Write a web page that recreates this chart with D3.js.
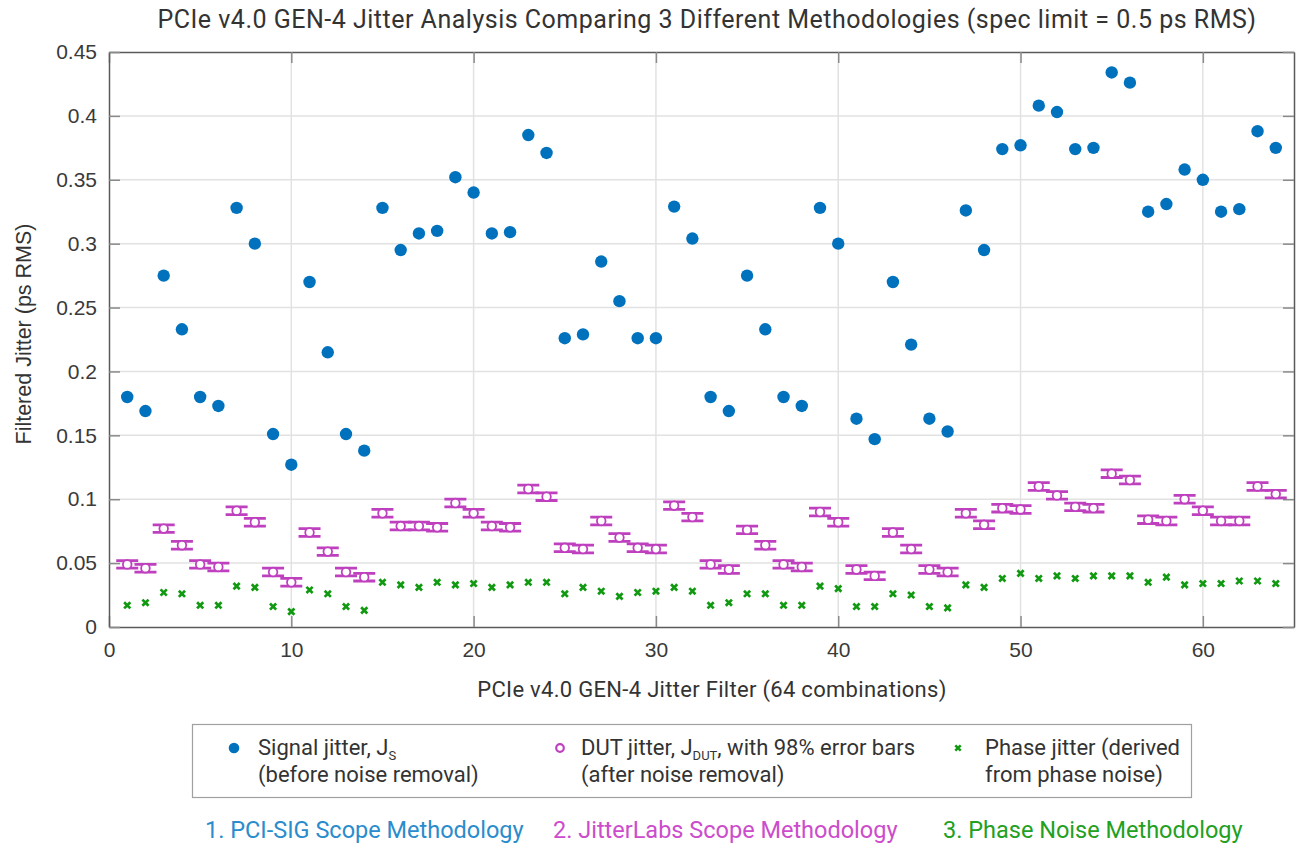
<!DOCTYPE html>
<html>
<head>
<meta charset="utf-8">
<script src="https://cdn.jsdelivr.net/npm/d3@7"></script>
<style>
  body { margin: 0; background: #fff; }
  svg { display: block; }
  .tick-lbl { font-family: "Liberation Sans", Arial, sans-serif; font-size: 21px; fill: #3a3a3a; }
  .rob { font-family: Roboto, sans-serif; fill: #333; }
</style>
</head>
<body>
<svg id="chart" width="1297" height="846"></svg>
<script>
// ---- data ----
const combo = d3.range(1, 65); // 64 filter combinations

const signalJitter = [
  0.180, 0.169, 0.275, 0.233, 0.180, 0.173, 0.328, 0.300, 0.151, 0.127,
  0.270, 0.215, 0.151, 0.138, 0.328, 0.295, 0.308, 0.310, 0.352, 0.340,
  0.308, 0.309, 0.385, 0.371, 0.226, 0.229, 0.286, 0.255, 0.226, 0.226,
  0.329, 0.304, 0.180, 0.169, 0.275, 0.233, 0.180, 0.173, 0.328, 0.300,
  0.163, 0.147, 0.270, 0.221, 0.163, 0.153, 0.326, 0.295, 0.374, 0.377,
  0.408, 0.403, 0.374, 0.375, 0.434, 0.426, 0.325, 0.331, 0.358, 0.350,
  0.325, 0.327, 0.388, 0.375
];

const dutJitter = [
  0.049, 0.046, 0.077, 0.064, 0.049, 0.047, 0.091, 0.082, 0.043, 0.035,
  0.074, 0.059, 0.043, 0.039, 0.089, 0.079, 0.079, 0.078, 0.097, 0.089,
  0.079, 0.078, 0.108, 0.102, 0.062, 0.061, 0.083, 0.070, 0.062, 0.061,
  0.095, 0.086, 0.049, 0.045, 0.076, 0.064, 0.049, 0.047, 0.090, 0.082,
  0.045, 0.040, 0.074, 0.061, 0.045, 0.043, 0.089, 0.080, 0.093, 0.092,
  0.110, 0.103, 0.094, 0.093, 0.120, 0.115, 0.084, 0.083, 0.100, 0.091,
  0.083, 0.083, 0.110, 0.104
];
const dutErr = 0.003; // half width of the 98% error bars

const phaseJitter = [
  0.017, 0.019, 0.027, 0.026, 0.017, 0.017, 0.032, 0.031, 0.016, 0.012,
  0.029, 0.026, 0.016, 0.013, 0.035, 0.033, 0.031, 0.035, 0.033, 0.034,
  0.031, 0.033, 0.035, 0.035, 0.026, 0.031, 0.028, 0.024, 0.027, 0.028,
  0.031, 0.028, 0.017, 0.019, 0.026, 0.026, 0.017, 0.017, 0.032, 0.030,
  0.016, 0.016, 0.026, 0.025, 0.016, 0.015, 0.033, 0.031, 0.038, 0.042,
  0.038, 0.040, 0.038, 0.040, 0.040, 0.040, 0.035, 0.039, 0.033, 0.034,
  0.034, 0.036, 0.036, 0.034
];

const xTicks = [0, 10, 20, 30, 40, 50, 60];
const yTicks = [0, 0.05, 0.1, 0.15, 0.2, 0.25, 0.3, 0.35, 0.4, 0.45];

const blue = '#0072bd', purple = '#bf40bf', green = '#119a11';

/*################
Scales and frame
################*/
const svg = d3.select('#chart');
const pL = 109, pR = 1294, pT = 52, pB = 627;

const x = d3.scaleLinear().domain([0, 65]).range([pL, pR]);
const y = d3.scaleLinear().domain([0, 0.45]).range([pB, pT]);

// grid
svg.append('g')
  .selectAll('line')
  .data(xTicks.slice(1))
  .join('line')
  .attr('x1', d => x(d)).attr('x2', d => x(d))
  .attr('y1', pT).attr('y2', pB)
  .attr('stroke', '#e2e2e2').attr('stroke-width', 1.5);
svg.append('g')
  .selectAll('line')
  .data(yTicks.slice(1, -1))
  .join('line')
  .attr('x1', pL).attr('x2', pR)
  .attr('y1', d => y(d)).attr('y2', d => y(d))
  .attr('stroke', '#e2e2e2').attr('stroke-width', 1.5);

// axes, ticks pointing inward like a matlab box
let styleAxis = g => {
  g.select('.domain').attr('stroke', '#5a5a5a').attr('stroke-width', 1.5);
  g.selectAll('.tick line').attr('stroke', '#8a8a8a').attr('stroke-width', 1.5);
  g.selectAll('.tick text').attr('class', 'tick-lbl').attr('fill', null);
};

svg.append('g')
  .attr('transform', `translate(0,${pB})`)
  .call(d3.axisBottom(x).tickValues(xTicks).tickSizeInner(-11).tickSizeOuter(0).tickPadding(15).tickFormat(d3.format('d')))
  .call(styleAxis);
svg.append('g')
  .attr('transform', `translate(0,${pT})`)
  .call(d3.axisTop(x).tickValues(xTicks).tickSizeInner(-11).tickSizeOuter(0).tickFormat(''))
  .call(styleAxis);
svg.append('g')
  .attr('transform', `translate(${pL},0)`)
  .call(d3.axisLeft(y).tickValues(yTicks).tickSizeInner(-11).tickSizeOuter(0).tickPadding(12).tickFormat(d => String(+d.toFixed(2))))
  .call(styleAxis);
svg.append('g')
  .attr('transform', `translate(${pR},0)`)
  .call(d3.axisRight(y).tickValues(yTicks).tickSizeInner(-11).tickSizeOuter(0).tickFormat(''))
  .call(styleAxis);

/*################
Marks
################*/
// phase jitter, x markers
let xMark = s => `M${-s},${-s}L${s},${s}M${-s},${s}L${s},${-s}`;
svg.append('g')
  .selectAll('path')
  .data(combo)
  .join('path')
  .attr('transform', (d, i) => `translate(${x(d)},${y(phaseJitter[i])})`)
  .attr('d', xMark(3.1))
  .attr('stroke', green).attr('stroke-width', 2.7).attr('fill', 'none');

// DUT jitter with error bars
const eb = svg.append('g');
eb.selectAll('path')
  .data(combo)
  .join('path')
  .attr('d', (d, i) => {
    let cx = x(d), lo = y(dutJitter[i] - dutErr), hi = y(dutJitter[i] + dutErr), w = 11;
    return `M${cx - w},${lo}H${cx + w}M${cx - w},${hi}H${cx + w}M${cx},${lo}V${hi}`;
  })
  .attr('stroke', purple).attr('stroke-width', 2.8).attr('fill', 'none');
eb.selectAll('circle')
  .data(combo)
  .join('circle')
  .attr('cx', d => x(d))
  .attr('cy', (d, i) => y(dutJitter[i]))
  .attr('r', 4.3)
  .attr('fill', '#fff')
  .attr('stroke', purple).attr('stroke-width', 1.8);

// signal jitter, filled dots
svg.append('g')
  .selectAll('circle')
  .data(combo)
  .join('circle')
  .attr('cx', d => x(d))
  .attr('cy', (d, i) => y(signalJitter[i]))
  .attr('r', 6.2)
  .attr('fill', blue);

/*################
Text
################*/
svg.append('text').attr('class', 'rob')
  .attr('x', 707).attr('y', 28).attr('text-anchor', 'middle')
  .style('font-size', '25px').style('letter-spacing', '0.5px')
  .text('PCIe v4.0 GEN-4 Jitter Analysis Comparing 3 Different Methodologies (spec limit = 0.5 ps RMS)');

svg.append('text').attr('class', 'rob')
  .attr('x', 712).attr('y', 697).attr('text-anchor', 'middle')
  .style('font-size', '22px').style('letter-spacing', '0.3px')
  .text('PCIe v4.0 GEN-4 Jitter Filter (64 combinations)');

svg.append('text')
  .attr('transform', 'translate(31,334) rotate(-90)')
  .attr('text-anchor', 'middle')
  .style('font-family', '"Liberation Sans", Arial, sans-serif')
  .style('font-size', '21.5px')
  .attr('fill', '#333')
  .text('Filtered Jitter (ps RMS)');

/*################
Legend
################*/
const legend = svg.append('g');
legend.append('rect')
  .attr('x', 192.5).attr('y', 724.5).attr('width', 999).attr('height', 73)
  .attr('fill', '#fff').attr('stroke', '#a0a0a0').attr('stroke-width', 1.2);

const legendItems = [
  { tx: 258, l1: ['Signal jitter, J', 'S', ''], l2: '(before noise removal)' },
  { tx: 581, l1: ['DUT jitter, J', 'DUT', ', with 98% error bars'], l2: '(after noise removal)' },
  { tx: 985, l1: ['Phase jitter (derived', '', ''], l2: 'from phase noise)' }
];

legendItems.forEach(it => {
  let t = legend.append('text').attr('class', 'rob')
    .attr('x', it.tx).attr('y', 755).style('font-size', '22px');
  t.append('tspan').text(it.l1[0]);
  if (it.l1[1]) t.append('tspan').attr('dy', 5).style('font-size', '13px').text(it.l1[1]);
  if (it.l1[2]) t.append('tspan').attr('dy', -5).text(it.l1[2]);
  legend.append('text').attr('class', 'rob')
    .attr('x', it.tx).attr('y', 782).style('font-size', '22px').text(it.l2);
});
legend.append('circle').attr('cx', 234).attr('cy', 748).attr('r', 5.3).attr('fill', blue);
legend.append('circle').attr('cx', 560).attr('cy', 748).attr('r', 3.8)
  .attr('fill', '#fff').attr('stroke', purple).attr('stroke-width', 2.2);
legend.append('path').attr('transform', 'translate(958,748)').attr('d', xMark(2.7))
  .attr('stroke', green).attr('stroke-width', 2.5);

const methods = ['1. PCI-SIG Scope Methodology', '2. JitterLabs Scope Methodology', '3. Phase Noise Methodology'];
const methodColor = ['#2a8ccd', '#cc4ccc', '#22a022'];
const methodX = [205, 553, 943];
svg.append('g')
  .selectAll('text')
  .data(methods)
  .join('text')
  .attr('x', (d, i) => methodX[i])
  .attr('y', 838)
  .style('font-family', 'Roboto, sans-serif')
  .style('font-size', '23.5px')
  .style('fill', (d, i) => methodColor[i])
  .text(d => d);
</script>
</body>
</html>
